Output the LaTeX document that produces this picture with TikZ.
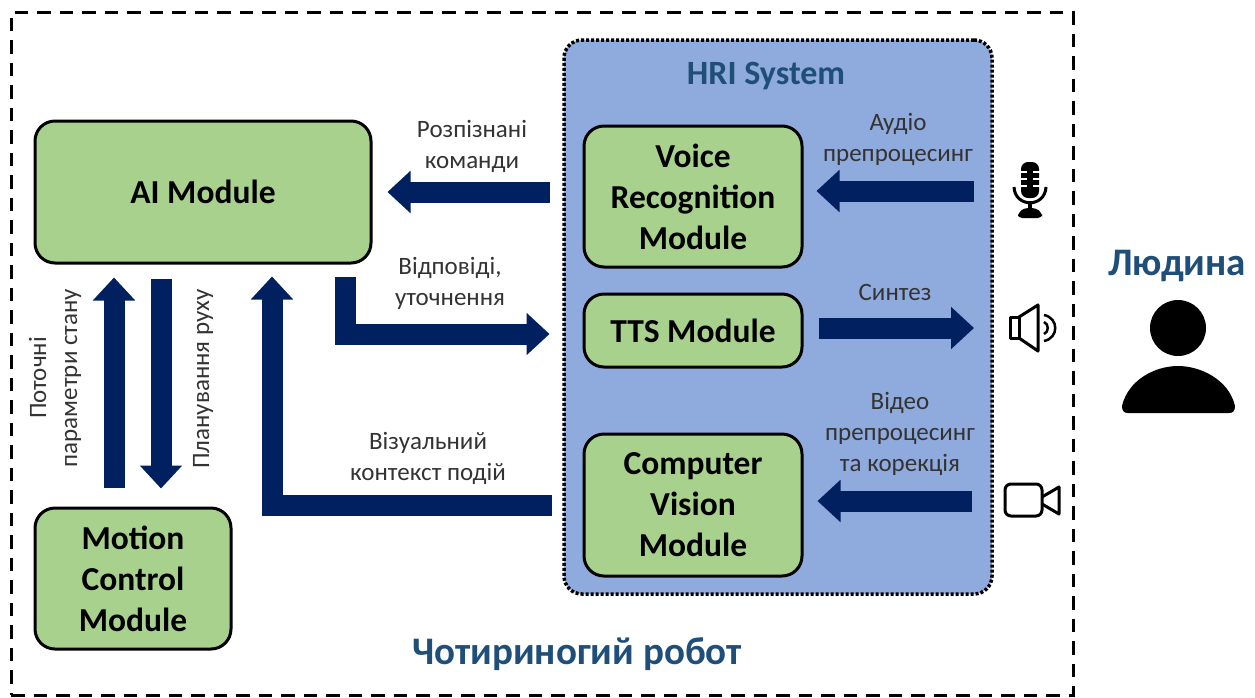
\documentclass[tikz,border=0pt]{standalone}
\usepackage{fontspec}
\setmainfont{Carlito}
\usetikzlibrary{arrows.meta}
\definecolor{navy}{HTML}{002060}
\definecolor{modgreen}{HTML}{A9D18E}
\definecolor{hriblue}{HTML}{8FAADC}
\definecolor{titleblue}{HTML}{1F4E79}
\tikzstyle{module}=[draw, line width=3pt, fill=modgreen, rounded corners=20pt, align=center
,font=\fontsize{33.5}{41}\selectfont\bfseries
,inner sep=0pt
]
\tikzstyle{note}=[align=center, text=black!80, inner sep=0pt
,font=\fontsize{25}{31}\selectfont
]
\tikzstyle{heading}=[text=titleblue, inner sep=0pt, font=\fontsize{39}{46}\selectfont\bfseries]
\tikzstyle{flow} = [draw=navy, line width=21pt, line join=miter, -{Triangle[width=41pt,length=23pt]}]
\tikzstyle{outline} = [draw, line width=3pt, line join=round]

\begin{document}
\begin{tikzpicture}[x=1pt,y=-1pt]
    \useasboundingbox (0,0) rectangle (1255,697);
    % The robot frame and the HRI panel
    \node[draw, line width=3pt, dash pattern=on 13.5pt off 9pt, minimum width=1062pt, minimum height=683pt, inner sep=0pt] (robot) at (542,353.5) {};
    \node[draw, line width=3.5pt, dash pattern=on 3pt off 2pt, fill=hriblue, rounded corners=18pt, minimum width=428pt, minimum height=554pt, inner sep=0pt] (hri) at (778,317) {};

    % First we draw the modules
    \foreach \pos/\name/\wid/\hgt/\txt in {{(203,192)/ai/336/142/AI Module}, {(693,196.5)/voice/218/141/Voice\\Recognition\\Module}, {(693,330.5)/tts/218/73/TTS Module}, {(693,505)/vision/218/142/Computer\\Vision\\Module}, {(133,578.5)/motion/196/141/Motion\\Control\\Module}}
        \node[module, minimum width=\wid pt, minimum height=\hgt pt] (\name) at \pos {\txt};

    % Headings
    \node[heading, font=\fontsize{34}{40}\selectfont\bfseries] (hrititle) at (766,76) {HRI System};
    \node[heading] (robottitle) at (577,654) {Чотириногий робот};
    \node[heading] (humantitle) at (1177,266) {Людина};

    % Labels of the connectors
    \foreach \pos/\name/\txt in {{(472,146)/lblcmd/Розпізнані\\команди}, {(450,283.5)/lblreply/Відповіді,\\уточнення}, {(428,458)/lblcontext/Візуальний\\контекст подій}, {(898,139)/lblaudio/Аудіо\\препроцесинг}, {(895,292)/lblsynth/Синтез}, {(900,434)/lblvideo/Відео\\препроцесинг\\та корекція}}
        \node[note] (\name) at \pos {\txt};
    \node[note, rotate=90] (lblstate) at (55,378) {Поточні\\параметри стану};
    \node[note, rotate=90] (lblplan) at (203,379) {Планування руху};

    % Free ends at the icons
    \coordinate (mic) at (1031,191);
    \coordinate (speaker) at (1026,328);
    \coordinate (cam) at (1031,501);

    % Connect modules with arrows
    \path[flow, shorten <=33pt, shorten >=15pt] (voice.west |- ai.east) -- (ai.east);
    \path[flow, shorten <=57pt, shorten >=13pt] (mic) -- (mic -| voice.east);
    \path[flow, shorten <=15pt, shorten >=52pt] (tts.east |- speaker) -- (speaker);
    \path[flow, shorten <=59pt, shorten >=14pt] (cam) -- (cam -| vision.east);
    \path[flow, shorten <=12pt, shorten >=33pt] ([xshift=142pt]ai.south) |- ([yshift=-3.5pt]tts.west);
    \path[flow, shorten <=31pt, shorten >=12pt] (vision.west) -| ([xshift=69pt]ai.south);
    \path[flow, shorten <=19pt, shorten >=13pt] ([xshift=-19pt]motion.north) -- ([xshift=-19pt]motion.north |- ai.south);
    \path[flow, shorten <=14pt, shorten >=18pt] ([xshift=-42pt]ai.south) -- ([xshift=-42pt]ai.south |- motion.north);

    % Microphone
    \fill[rounded corners=7pt] (1021,162) rectangle (1039,198);
    \foreach \y in {172,179,186} {
        \draw[white, line width=1.5pt] (1020,\y) -- (1027,\y);
        \draw[white, line width=1.5pt] (1033,\y) -- (1040,\y);
    }
    \draw[line width=3pt] (1014,187) .. controls (1015,208) and (1045,208) .. (1046,187);
    \draw[line width=4pt] (1030,203) -- (1030,210);
    \fill[rounded corners=4pt] (1018,218) -- (1018,213) -- (1024,208) -- (1036,208) -- (1042,213) -- (1042,218) -- cycle;

    % Speaker
    \draw[outline] (1010,317) rectangle (1019,338);
    \draw[outline] (1019,317) -- (1038,305) -- (1038,351) -- (1019,338);
    \draw[line width=2.5pt] (1044,322) .. controls (1049,324) and (1049,332) .. (1044,334);
    \draw[line width=2.5pt] (1044,315) .. controls (1059,318) and (1059,338) .. (1044,341);

    % Camera
    \draw[outline, rounded corners=6pt] (1005,484) rectangle (1042,516);
    \draw[outline] (1042,497) -- (1059,487) -- (1059,514) -- (1042,504);

    % Person
    \fill (1178,328) circle[radius=28];
    \fill (1122,406) .. controls (1128,380) and (1155,366) .. (1178,366) .. controls (1201,366) and (1229,380) .. (1235,406) .. controls (1235,411) and (1233,413) .. (1229,413) -- (1128,413) .. controls (1124,413) and (1122,411) .. (1122,406) -- cycle;
\end{tikzpicture}
\end{document}
